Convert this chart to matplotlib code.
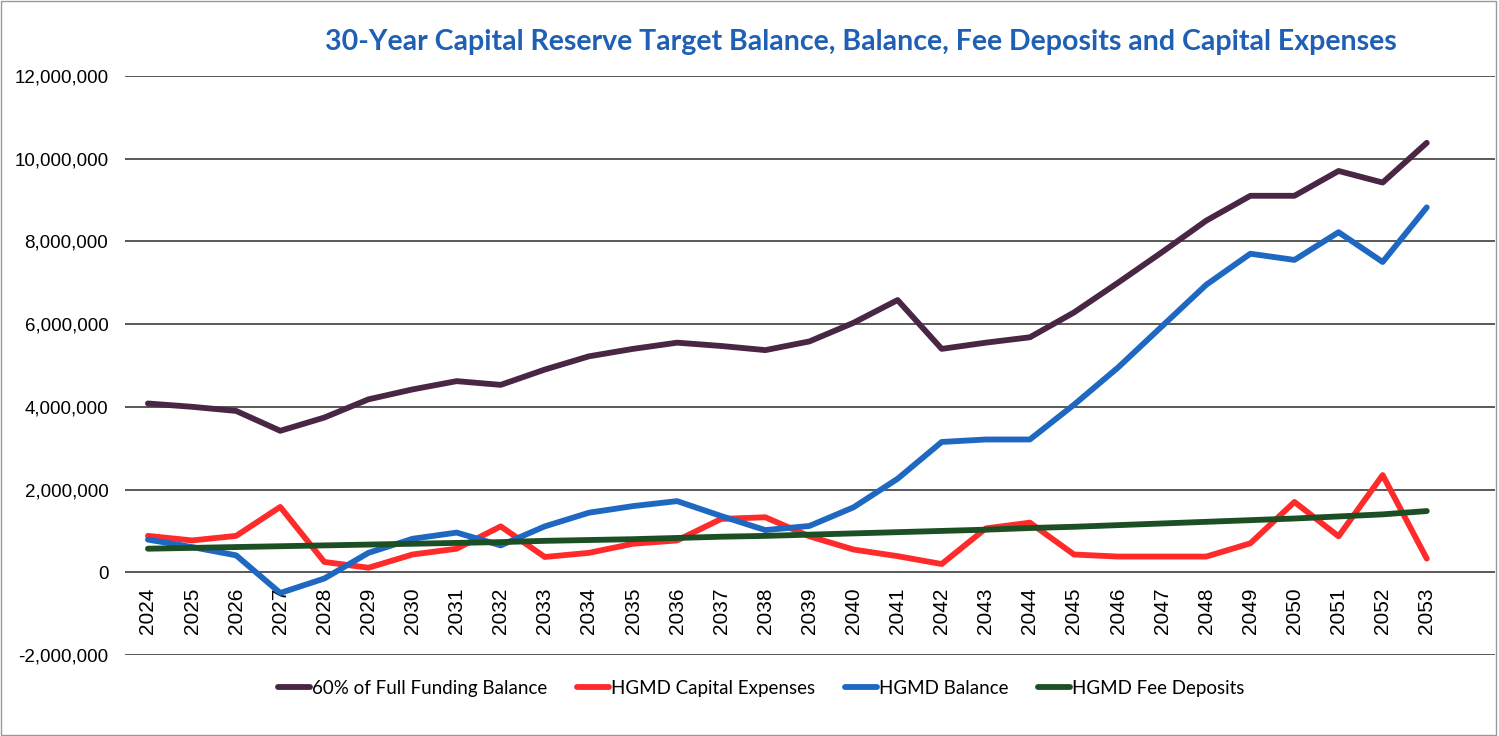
import matplotlib.pyplot as plt
from matplotlib.ticker import FuncFormatter

years = list(range(2024, 2054))

full_funding_60 = [4.08, 4.00, 3.90, 3.42, 3.74, 4.18, 4.42, 4.62, 4.53, 4.90,
                   5.22, 5.40, 5.55, 5.47, 5.37, 5.58, 6.03, 6.58, 5.40, 5.55,
                   5.68, 6.28, 7.00, 7.74, 8.50, 9.10, 9.10, 9.70, 9.42, 10.38]
capital_expenses = [0.88, 0.77, 0.88, 1.58, 0.25, 0.11, 0.43, 0.57, 1.11, 0.37,
                    0.47, 0.69, 0.77, 1.29, 1.33, 0.87, 0.55, 0.39, 0.20, 1.06,
                    1.20, 0.43, 0.38, 0.38, 0.38, 0.70, 1.70, 0.87, 2.35, 0.33]
hgmd_balance = [0.79, 0.61, 0.41, -0.50, -0.15, 0.47, 0.81, 0.96, 0.65, 1.11,
                1.44, 1.60, 1.72, 1.36, 1.02, 1.12, 1.57, 2.26, 3.15, 3.21,
                3.21, 4.05, 4.95, 5.95, 6.95, 7.70, 7.55, 8.22, 7.50, 8.82]
fee_deposits = [0.57, 0.59, 0.61, 0.63, 0.65, 0.67, 0.69, 0.71, 0.73, 0.76,
                0.78, 0.80, 0.83, 0.86, 0.88, 0.91, 0.94, 0.97, 1.00, 1.03,
                1.07, 1.10, 1.14, 1.18, 1.22, 1.26, 1.30, 1.35, 1.40, 1.48]

scale = 1_000_000

fig = plt.figure(figsize=(14.99, 7.36), dpi=100)
ax = fig.add_axes([0.0834, 0.110, 0.914, 0.787])

# x axis sits on the zero line (set before tick labels, it resets them)
ax.spines['bottom'].set_position(('data', 0))
for s in ax.spines.values():
    s.set_visible(False)

x = list(range(len(years)))
lw = 4.2
ax.plot(x, [v * scale for v in full_funding_60], color='#4a2645', lw=lw,
        solid_capstyle='round', label='60% of Full Funding Balance', zorder=5)
ax.plot(x, [v * scale for v in capital_expenses], color='#ff2b2b', lw=lw,
        solid_capstyle='round', label='HGMD Capital Expenses', zorder=4)
ax.plot(x, [v * scale for v in hgmd_balance], color='#1f68c1', lw=lw,
        solid_capstyle='round', label='HGMD Balance', zorder=5)
ax.plot(x, [v * scale for v in fee_deposits], color='#1d4f25', lw=lw,
        solid_capstyle='round', label='HGMD Fee Deposits', zorder=6)

ax.set_ylim(-2_000_000, 12_000_000)
ax.set_xlim(-0.52, 30.55)
ax.set_yticks(range(-2_000_000, 12_000_001, 2_000_000))
ax.yaxis.set_major_formatter(FuncFormatter(lambda v, p: f'{int(v):,}'))
ax.grid(axis='y', color='#2b2b2b', lw=1.1)
ax.set_axisbelow(True)

ax.set_xticks(x)
ax.set_xticklabels([str(y) for y in years], rotation=90, fontsize=15,
                   family='Liberation Sans')
ax.tick_params(axis='both', length=0)
ax.tick_params(axis='x', pad=11)
ax.tick_params(axis='y', pad=12)
for t in ax.get_yticklabels():
    t.set_fontsize(13.5)
    t.set_family('Liberation Sans')

fig.text(0.574, 0.943,
         '30-Year Capital Reserve Target Balance, Balance, Fee Deposits and Capital Expenses',
         ha='center', va='center', fontsize=20.5, fontweight='bold',
         color='#1f5fb4', family='Lato')

leg = fig.legend(loc='center', bbox_to_anchor=(0.508, 0.065), ncol=4,
                 frameon=False, handlelength=1.7, handletextpad=0.1,
                 columnspacing=1.6, prop={'family': 'Lato', 'size': 13.5})

fig.add_artist(plt.Rectangle((0.001, 0.002), 0.997, 0.996, fill=False,
                             edgecolor='#999999', lw=1.0,
                             transform=fig.transFigure))

plt.savefig('out.png', dpi=100)
